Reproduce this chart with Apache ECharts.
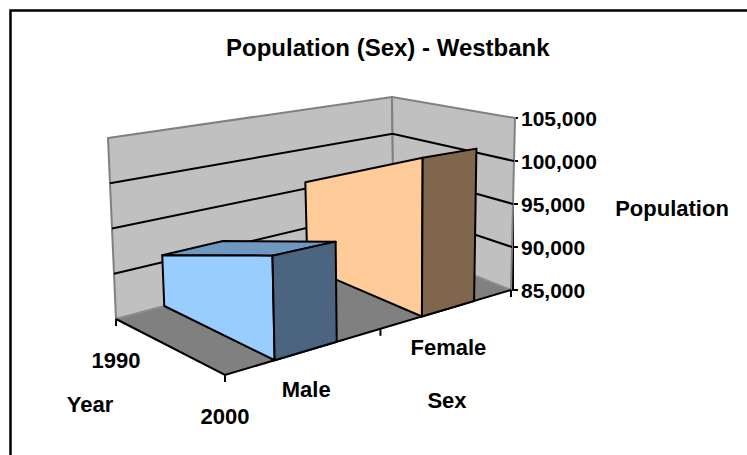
<!DOCTYPE html>
<html>
<head>
<meta charset="utf-8">
<script src="https://cdn.jsdelivr.net/npm/echarts@6/dist/echarts.min.js"></script>
<style>
html, body { margin: 0; padding: 0; background: #fff; }
#chart { width: 747px; height: 455px; }
</style>
</head>
<body>
<div id="chart"></div>
<script>
// chart data
var years = ['1990', '2000'];
var sexes = ['Male', 'Female'];
var malePop = [90800, 95200];
var femalePop = [95800, 102200];
var popTicks = [85000, 90000, 95000, 100000, 105000];

var FONT = '"Liberation Sans", Arial, sans-serif';
var chart = echarts.init(document.getElementById('chart'), null, { renderer: 'svg' });

// screen corners of the 3d box, key = s d h (s: sex dir, d: 0 front .. 1 back, h: 0 floor .. 1 top)
var corner = {
  '000': [225, 375], '100': [511, 290], '010': [116, 319], '110': [394, 244],
  '001': [219, 163], '101': [515, 118], '011': [108, 138], '111': [392, 97]
};
var persp = 0.84; // foreshortening along the sex direction

function lerp(a, b, t) { return [a[0] + (b[0] - a[0]) * t, a[1] + (b[1] - a[1]) * t]; }
function proj(s, d, h) {
  var sw = s / (s + (1 - s) * persp);
  var bot = lerp(lerp(corner['000'], corner['100'], sw), lerp(corner['010'], corner['110'], sw), d);
  var top = lerp(lerp(corner['001'], corner['101'], sw), lerp(corner['011'], corner['111'], sw), d);
  return lerp(bot, top, h);
}
// value -> 0..1 height, through the y axis scale
function heightOf(api, v) {
  var y0 = api.coord([0, popTicks[0]])[1];
  var y1 = api.coord([0, popTicks[popTicks.length - 1]])[1];
  return (y0 - api.coord([0, v])[1]) / (y0 - y1);
}
// year index -> depth, through the (hidden) category axis
function depthOf(api, idx) {
  var x0 = api.coord([0, popTicks[0]])[0];
  var x1 = api.coord([years.length - 1, popTicks[0]])[0];
  return 1 - (api.coord([idx, popTicks[0]])[0] - x0) / (x1 - x0);
}
function poly(pts, fill, stroke, lw, z2) {
  return { type: 'polygon', z2: z2, shape: { points: pts },
    style: { fill: fill, stroke: stroke, lineWidth: lw, lineJoin: 'round' } };
}
function line(pts, stroke, lw, z2) {
  return { type: 'polyline', z2: z2, shape: { points: pts },
    style: { fill: null, stroke: stroke, lineWidth: lw } };
}
function textStyle(txt, size) {
  return { text: txt, fill: '#000', font: 'bold ' + size + 'px ' + FONT, fontSize: size, fontWeight: 'bold',
    fontFamily: FONT, align: 'center', verticalAlign: 'middle', textAlign: 'center', textVerticalAlign: 'middle' };
}
function label(p, txt) {
  return { type: 'text', x: p[0], y: p[1], z2: 50, style: textStyle(txt, 22) };
}

function renderFrame(params, api) {
  var kids = [];
  kids.push(poly([proj(0, 1, 0), proj(1, 1, 0), proj(1, 1, 1), proj(0, 1, 1)], '#c0c0c0', '#808080', 2, 1));
  kids.push(poly([proj(1, 1, 0), proj(1, 0, 0), proj(1, 0, 1), proj(1, 1, 1)], '#c0c0c0', '#808080', 2, 1));
  kids.push(poly([proj(0, 0, 0), proj(1, 0, 0), proj(1, 1, 0), proj(0, 1, 0)], '#808080', '#969696', 1, 2));
  // gridlines on the walls
  popTicks.slice(1, -1).forEach(function (v) {
    var h = heightOf(api, v);
    kids.push(line([proj(0, 1, h), proj(1, 1, h), proj(1, 0, h)], '#000', 2, 3));
  });
  // floor front edges
  kids.push(line([proj(0, 1, 0), proj(0, 0, 0), proj(1, 0, 0)], '#000', 2, 4));
  // year ticks + labels
  years.forEach(function (y, i) {
    var p = proj(0, depthOf(api, i), 0);
    kids.push(line([p, [p[0], p[1] + 7]], '#000', 2, 4));
    kids.push(label([p[0], p[1] + 41], y));
  });
  // sex ticks + labels
  for (var k = 0; k <= sexes.length; k++) {
    var q = proj(k / sexes.length, 0, 0);
    kids.push(line([q, [q[0], q[1] + 7]], '#000', 2, 4));
  }
  sexes.forEach(function (s, i) {
    var p = proj((i + 0.5) / sexes.length, 0, 0);
    kids.push(label([p[0], p[1] + 39], s));
  });
  return { type: 'group', children: kids };
}

var faceColors = [
  { side: '#99ccff', top: '#6f98c0', front: '#4b6480' },
  { side: '#ffcc99', top: '#bf9973', front: '#80664d' }
];

function renderSlab(params, api) {
  var i = api.value(0);
  var n = sexes.length;
  var s0 = (i + 0.3) / n, s1 = (i + 0.7) / n;
  var dB = depthOf(api, 0), dF = depthOf(api, years.length - 1);
  var hB = heightOf(api, api.value(1)), hF = heightOf(api, api.value(2));
  var c = faceColors[i];
  var z = (n - i) * 10;
  var kids = [];
  var tA = proj(s0, dB, hB), tB = proj(s0, dF, hF), tC = proj(s1, dF, hF), tD = proj(s1, dB, hB);
  var cross = (tB[0] - tA[0]) * (tC[1] - tB[1]) - (tB[1] - tA[1]) * (tC[0] - tB[0]);
  if (cross < 0) kids.push(poly([tA, tB, tC, tD], c.top, '#000', 2, z));
  kids.push(poly([proj(s0, dB, 0), proj(s0, dF, 0), tB, tA], c.side, '#000', 2, z + 1));
  kids.push(poly([proj(s0, dF, 0), proj(s1, dF, 0), tC, tB], c.front, '#000', 2, z + 2));
  return { type: 'group', children: kids };
}

chart.setOption({
  animation: false,
  backgroundColor: '#fff',
  title: {
    text: 'Population (Sex) - Westbank',
    left: 221, top: 30,
    textStyle: { fontFamily: FONT, fontSize: 24, fontWeight: 'bold', color: '#000' }
  },
  grid: { left: 100, right: 234, top: 118, bottom: 165 },
  xAxis: { type: 'category', data: years, boundaryGap: false, show: false },
  yAxis: {
    type: 'value', position: 'right',
    min: popTicks[0], max: popTicks[popTicks.length - 1], interval: popTicks[1] - popTicks[0],
    axisLine: { show: true, lineStyle: { color: '#000', width: 2 } },
    axisTick: { show: true, length: 5, lineStyle: { color: '#000', width: 2 } },
    splitLine: { show: false },
    axisLabel: {
      color: '#000', fontFamily: FONT, fontSize: 21, fontWeight: 'bold', margin: 8,
      formatter: function (v) { return v.toLocaleString('en-US'); }
    }
  },
  graphic: [
    { type: 'rect', shape: { x: 10.5, y: 10.5, width: 800, height: 500 },
      style: { fill: null, stroke: '#000', lineWidth: 2.5 }, z: -1 },
    { type: 'text', x: 672, y: 208, style: textStyle('Population', 22) },
    { type: 'text', x: 90, y: 404, style: textStyle('Year', 22) },
    { type: 'text', x: 447, y: 400, style: textStyle('Sex', 22) }
  ],
  series: [
    { type: 'custom', name: 'frame', silent: true, clip: false, z: 1,
      data: [[0, popTicks[0]]], encode: { x: 0, y: 1 }, renderItem: renderFrame },
    { type: 'custom', name: 'Population', silent: true, clip: false, z: 2,
      data: [[0, malePop[0], malePop[1]], [1, femalePop[0], femalePop[1]]],
      encode: { x: 0, y: [1, 2] }, renderItem: renderSlab }
  ]
});
</script>
</body>
</html>
